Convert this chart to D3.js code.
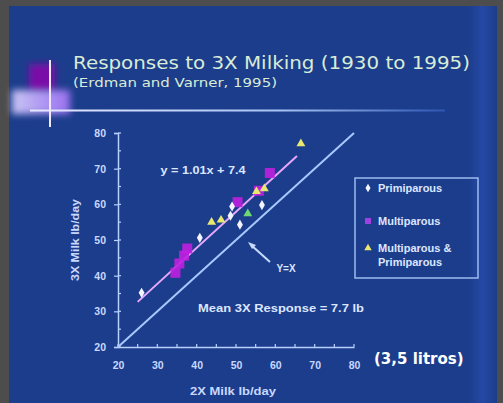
<!DOCTYPE html>
<html><head><meta charset="utf-8">
<script src="https://cdn.jsdelivr.net/npm/d3@7"></script>
<style>html,body{margin:0;padding:0;background:#4d4d4d;}svg{display:block;}</style>
</head><body>
<script>
// ---- data ----
const xTicks = [20, 30, 40, 50, 60, 70, 80];
const yTicks = [20, 30, 40, 50, 60, 70, 80];
const primiparous = [[26, 35.2], [40.8, 50.6], [49, 59.4], [51, 54.3], [56.6, 59.8], [48.6, 56.8]];
const multiparous = [[34.6, 40.8], [35.6, 43.4], [36.8, 45.6], [37.6, 47.6], [50.4, 60.6], [58.6, 68.8], [55.8, 63.8]];
const mixed = [[43.8, 55], [46.2, 55.6], [53, 57.4], [55.2, 63.6], [57.2, 64.4], [66.5, 77]];
const regression = {slope: 1.01, intercept: 7.4, from: 25, to: 65.5};
const identity = [20, 80];
const legendLabels = [["Primiparous"], ["Multiparous"], ["Multiparous &", "Primiparous"]];

const W = 503, H = 403;
const FONT = "Liberation Sans, Arial, sans-serif";
const svg = d3.select("body").append("svg").attr("width", W).attr("height", H);
const defs = svg.append("defs");

// slide background
svg.append("rect").attr("x", 9).attr("y", 6).attr("width", 488).attr("height", 397).attr("fill", "#1c3d8c");
const bandG = defs.append("linearGradient").attr("id", "band");
bandG.append("stop").attr("offset", "0").attr("stop-color", "#1c3d8c");
bandG.append("stop").attr("offset", "0.5").attr("stop-color", "#2548a4");
bandG.append("stop").attr("offset", "1").attr("stop-color", "#1c3d8c");
svg.append("rect").attr("x", 468).attr("y", 6).attr("width", 29).attr("height", 397).attr("fill", "url(#band)");

// decorations
const blur = defs.append("filter").attr("id", "blur").attr("x", "-50%").attr("y", "-50%").attr("width", "200%").attr("height", "200%");
blur.append("feGaussianBlur").attr("stdDeviation", 3.5);
svg.append("rect").attr("x", 29).attr("y", 64).attr("width", 26).attr("height", 27).attr("fill", "#7a0ca8").attr("filter", "url(#blur)");
const lav = defs.append("linearGradient").attr("id", "lav");
lav.append("stop").attr("offset", "0").attr("stop-color", "#c8c4f4");
lav.append("stop").attr("offset", "1").attr("stop-color", "#9a70f0");
svg.append("rect").attr("x", 12).attr("y", 90).attr("width", 58).attr("height", 24).attr("fill", "url(#lav)").attr("filter", "url(#blur)");
const hl = defs.append("linearGradient").attr("id", "hl");
hl.append("stop").attr("offset", "0").attr("stop-color", "#e8e8ff");
hl.append("stop").attr("offset", "0.6").attr("stop-color", "#a8c4f4");
hl.append("stop").attr("offset", "1").attr("stop-color", "#2c55b0");
svg.append("rect").attr("x", 30).attr("y", 109.5).attr("width", 415).attr("height", 2).attr("fill", "url(#hl)");
svg.append("rect").attr("x", 49).attr("y", 60).attr("width", 2).attr("height", 67).attr("fill", "#f0e8ff");

// titles
svg.append("text").attr("x", 73).attr("y", 69).attr("fill", "#d8ecd6")
  .attr("font-family", "DejaVu Sans, Verdana, sans-serif").attr("font-size", 17.5)
  .attr("textLength", 397).attr("lengthAdjust", "spacingAndGlyphs")
  .text("Responses to 3X Milking (1930 to 1995)");
svg.append("text").attr("x", 73).attr("y", 87).attr("fill", "#d8ecd6")
  .attr("font-family", "DejaVu Sans, Verdana, sans-serif").attr("font-size", 12)
  .attr("textLength", 204).attr("lengthAdjust", "spacingAndGlyphs")
  .text("(Erdman and Varner, 1995)");

// scales
const x = d3.scaleLinear().domain([20, 80]).range([118, 354]);
const y = d3.scaleLinear().domain([20, 80]).range([347, 133]);
const axisCol = "#b8d0ff";

const xAxis = svg.append("g").attr("transform", `translate(0,${y(20)})`)
  .call(d3.axisBottom(x).tickValues(xTicks).tickSize(0).tickPadding(15).tickFormat(d3.format("d")));
const yAxis = svg.append("g").attr("transform", `translate(${x(20)},0)`)
  .call(d3.axisLeft(y).tickValues(yTicks).tickSize(4).tickPadding(8).tickFormat(d3.format("d")));
[xAxis, yAxis].forEach(g => {
  g.select(".domain").attr("stroke", axisCol).attr("stroke-width", 1.5);
  g.selectAll(".tick line").attr("stroke", axisCol).attr("stroke-width", 1.2);
  g.selectAll(".tick text").attr("fill", "#c8d8ff").attr("font-size", 10.5).attr("font-weight", "bold")
    .attr("font-family", FONT);
});
// minor ticks
const minor = d3.range(20, 81, 5);
svg.append("g").selectAll("line").data(minor).join("line")
  .attr("x1", d => x(d)).attr("x2", d => x(d)).attr("y1", y(20)).attr("y2", y(20) - 3)
  .attr("stroke", axisCol).attr("stroke-width", 1.2);
svg.append("g").selectAll("line").data(minor).join("line")
  .attr("x1", x(20)).attr("x2", x(20) + 3).attr("y1", d => y(d)).attr("y2", d => y(d))
  .attr("stroke", axisCol).attr("stroke-width", 1.2);

svg.append("text").attr("x", 233).attr("y", 395).attr("text-anchor", "middle").attr("fill", "#c8d8ff")
  .attr("font-family", FONT).attr("font-size", 11).attr("font-weight", "bold")
  .attr("textLength", 86).attr("lengthAdjust", "spacingAndGlyphs")
  .text("2X Milk lb/day");
svg.append("text").attr("transform", `translate(79,${y(50)}) rotate(-90)`).attr("text-anchor", "middle").attr("fill", "#c8d8ff")
  .attr("font-family", FONT).attr("font-size", 10.5).attr("font-weight", "bold")
  .attr("textLength", 82).attr("lengthAdjust", "spacingAndGlyphs")
  .text("3X Milk lb/day");

// Y = X line
svg.append("line").attr("x1", x(identity[0])).attr("y1", y(identity[0])).attr("x2", x(identity[1])).attr("y2", y(identity[1]))
  .attr("stroke", "#a8c8ff").attr("stroke-width", 2);
// regression line
svg.append("line")
  .attr("x1", x(regression.from)).attr("y1", y(regression.slope * regression.from + regression.intercept))
  .attr("x2", x(regression.to)).attr("y2", y(regression.slope * regression.to + regression.intercept))
  .attr("stroke", "#e8a8ff").attr("stroke-width", 2);

// points
svg.append("g").selectAll("rect").data(multiparous).join("rect")
  .attr("x", d => x(d[0]) - 5).attr("y", d => y(d[1]) - 5).attr("width", 10).attr("height", 10)
  .attr("fill", "#c020e0").attr("opacity", 0.9);
svg.append("g").selectAll("path").data(primiparous).join("path")
  .attr("transform", d => `translate(${x(d[0])},${y(d[1])})`)
  .attr("d", d3.symbol(d3.symbolDiamond, 30)).attr("fill", "#f4f4ff");
svg.append("g").selectAll("path").data(mixed).join("path")
  .attr("transform", d => `translate(${x(d[0])},${y(d[1])})`)
  .attr("d", d3.symbol(d3.symbolTriangle, 34))
  .attr("fill", (d, i) => i === 2 ? "#70d870" : "#e8e870");

// annotations
svg.append("text").attr("x", 203).attr("y", 174).attr("text-anchor", "middle").attr("fill", "#dce6ff")
  .attr("font-family", FONT).attr("font-size", 10.5).attr("font-weight", "bold")
  .attr("textLength", 85).attr("lengthAdjust", "spacingAndGlyphs")
  .text("y = 1.01x + 7.4");
svg.append("text").attr("x", 281).attr("y", 312).attr("text-anchor", "middle").attr("fill", "#dce6ff")
  .attr("font-family", FONT).attr("font-size", 11).attr("font-weight", "bold")
  .attr("textLength", 166).attr("lengthAdjust", "spacingAndGlyphs")
  .text("Mean 3X Response = 7.7 lb");
svg.append("text").attr("x", 286).attr("y", 272).attr("text-anchor", "middle").attr("fill", "#dce6ff")
  .attr("font-family", FONT).attr("font-size", 10).attr("font-weight", "bold")
  .text("Y=X");
svg.append("line").attr("x1", 270).attr("y1", 262).attr("x2", 251).attr("y2", 245)
  .attr("stroke", "#c8dcff").attr("stroke-width", 2);
svg.append("path").attr("d", "M248,242 L256,245 L252,249 Z").attr("fill", "#c8dcff");

// legend
const lg = svg.append("g");
lg.append("rect").attr("x", 355).attr("y", 178).attr("width", 123).attr("height", 100)
  .attr("fill", "none").attr("stroke", "#9cbcf0").attr("stroke-width", 1.5);
const ly = [188, 221, 248];
lg.append("path").attr("transform", `translate(368,${ly[0]})`).attr("d", d3.symbol(d3.symbolDiamond, 22)).attr("fill", "#f4f4ff");
lg.append("rect").attr("x", 365).attr("y", ly[1] - 3).attr("width", 6).attr("height", 6).attr("fill", "#a040e0");
lg.append("path").attr("transform", `translate(368,${ly[2]})`).attr("d", d3.symbol(d3.symbolTriangle, 24)).attr("fill", "#e8e870");
legendLabels.forEach((lines, i) => {
  lines.forEach((t, j) => {
    lg.append("text").attr("x", 378).attr("y", ly[i] + 4 + j * 14).attr("fill", "#dce6ff")
      .attr("font-family", FONT).attr("font-size", 11).attr("font-weight", "bold")
      .text(t);
  });
});

// litros note
svg.append("text").attr("x", 374).attr("y", 364).attr("fill", "#ffffff")
  .attr("font-family", "DejaVu Sans, Verdana, sans-serif").attr("font-size", 15).attr("font-weight", "bold")
  .text("(3,5 litros)");
</script>
</body></html>
